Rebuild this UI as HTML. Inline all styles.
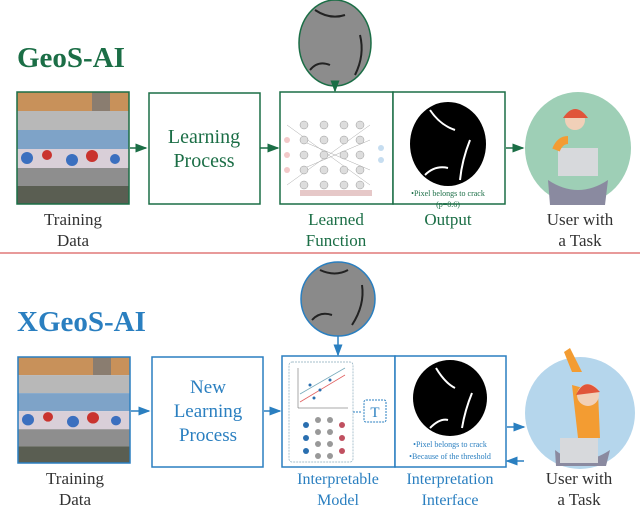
<!DOCTYPE html><html><head><style>body{margin:0;background:#fff}svg{display:block}text{font-family:"Liberation Serif",serif}</style></head><body>
<svg width="640" height="512" viewBox="0 0 640 512" xmlns="http://www.w3.org/2000/svg">
<defs>
<marker id="ag" markerWidth="8" markerHeight="8" refX="7" refY="4" orient="auto"><path d="M0,1 L8,4 L0,7 Z" fill="#1b6e46"/></marker>
<marker id="ab" markerWidth="8" markerHeight="8" refX="7" refY="4" orient="auto"><path d="M0,1 L8,4 L0,7 Z" fill="#2a7fc0"/></marker>
<g id="grid">
<rect x="0" y="0" width="112" height="19" fill="#c8915a"/>
<rect x="75" y="0" width="18" height="19" fill="#8a7d70"/>
<rect x="0" y="19" width="112" height="19" fill="#b8b8b8"/>
<rect x="0" y="38" width="112" height="19" fill="#7ea3c8"/>
<rect x="0" y="57" width="112" height="19" fill="#d9cfd8"/>
<circle cx="10" cy="66" r="6" fill="#3b6fbf"/><circle cx="30" cy="63" r="5" fill="#c9332e"/><circle cx="55" cy="68" r="6" fill="#3b6fbf"/><circle cx="75" cy="64" r="6" fill="#c9332e"/><circle cx="98" cy="67" r="5" fill="#3b6fbf"/>
<rect x="0" y="76" width="112" height="18" fill="#8e8e8e"/>
<rect x="0" y="94" width="112" height="18" fill="#5a5e52"/>
</g>
</defs>

<!-- TOP -->
<text x="17" y="67" font-size="29" font-weight="bold" fill="#1b6e46">GeoS-AI</text>
<g transform="translate(17,92)"><use href="#grid"/><rect x="0" y="0" width="112" height="112" fill="none" stroke="#1b6e46" stroke-width="1.5"/></g>
<line x1="130" y1="148" x2="146" y2="148" stroke="#1b6e46" stroke-width="1.5" marker-end="url(#ag)"/>
<rect x="149" y="93" width="111" height="111" fill="#fff" stroke="#1b6e46" stroke-width="1.5"/>
<text x="204" y="143" font-size="20" fill="#1b6e46" text-anchor="middle">Learning</text>
<text x="204" y="167" font-size="20" fill="#1b6e46" text-anchor="middle">Process</text>
<line x1="260" y1="148" x2="278" y2="148" stroke="#1b6e46" stroke-width="1.5" marker-end="url(#ag)"/>
<ellipse cx="335" cy="43" rx="36" ry="43" fill="#8c8c8c" stroke="#1b6e46" stroke-width="1.5"/>
<path d="M315,10 Q330,20 345,15 M360,35 Q365,55 355,75 M310,70 Q318,60 330,65" stroke="#222" stroke-width="2" fill="none"/>
<line x1="335" y1="86" x2="335" y2="91" stroke="#1b6e46" stroke-width="1.5" marker-end="url(#ag)"/>
<rect x="280" y="92" width="113" height="112" fill="#fff" stroke="#1b6e46" stroke-width="1.5"/>
<rect x="393" y="92" width="112" height="112" fill="#fff" stroke="#1b6e46" stroke-width="1.5"/>
<g stroke="#aaa" stroke-width="0.5">
<line x1="287" y1="125" x2="370" y2="185"/><line x1="287" y1="185" x2="370" y2="125"/><line x1="300" y1="140" x2="370" y2="170"/><line x1="300" y1="170" x2="370" y2="140"/>
</g>
<g fill="#ddd" stroke="#999" stroke-width="0.5">
<circle cx="304" cy="140" r="4"/><circle cx="304" cy="155" r="4"/><circle cx="304" cy="170" r="4"/><circle cx="304" cy="185" r="4"/><circle cx="304" cy="125" r="4"/>
<circle cx="324" cy="125" r="4"/><circle cx="324" cy="140" r="4"/><circle cx="324" cy="155" r="4"/><circle cx="324" cy="170" r="4"/><circle cx="324" cy="185" r="4"/>
<circle cx="344" cy="125" r="4"/><circle cx="344" cy="140" r="4"/><circle cx="344" cy="155" r="4"/><circle cx="344" cy="170" r="4"/><circle cx="344" cy="185" r="4"/>
<circle cx="360" cy="125" r="4"/><circle cx="360" cy="140" r="4"/><circle cx="360" cy="155" r="4"/><circle cx="360" cy="170" r="4"/><circle cx="360" cy="185" r="4"/>
</g>
<circle cx="287" cy="140" r="3" fill="#f3c9c9"/><circle cx="287" cy="155" r="3" fill="#f3c9c9"/><circle cx="287" cy="170" r="3" fill="#f3c9c9"/>
<circle cx="381" cy="148" r="3" fill="#c6ddf0"/><circle cx="381" cy="160" r="3" fill="#c6ddf0"/>
<rect x="300" y="190" width="72" height="6" fill="#e6c8c8"/>
<ellipse cx="448" cy="144" rx="38" ry="42" fill="#000"/>
<path d="M430,110 Q440,125 455,130 M470,140 Q462,160 460,180 M425,175 Q435,165 448,168" stroke="#fff" stroke-width="2" fill="none"/>
<text x="448" y="196" font-size="8" fill="#1b6e46" text-anchor="middle">•Pixel belongs to crack</text>
<text x="448" y="207" font-size="8" fill="#1b6e46" text-anchor="middle">(p=0.6)</text>
<line x1="506" y1="148" x2="523" y2="148" stroke="#1b6e46" stroke-width="1.5" marker-end="url(#ag)"/>
<ellipse cx="578" cy="148" rx="53" ry="56" fill="#9ecfb6"/>
<path d="M548,180 Q578,200 608,180 L605,205 L550,205 Z" fill="#8a8aa0"/>
<rect x="558" y="148" width="40" height="28" fill="#d7d9dc"/>
<path d="M556,150 Q560,140 568,140" stroke="#f39c32" stroke-width="8" fill="none"/>
<circle cx="575" cy="120" r="10" fill="#f1d0b8"/><path d="M563,118 Q575,100 588,118" fill="#e0553a"/>
<text x="73" y="225" font-size="17" fill="#333" text-anchor="middle">Training</text>
<text x="73" y="246" font-size="17" fill="#333" text-anchor="middle">Data</text>
<text x="336" y="225" font-size="17" fill="#1b6e46" text-anchor="middle">Learned</text>
<text x="336" y="246" font-size="17" fill="#1b6e46" text-anchor="middle">Function</text>
<text x="448" y="225" font-size="17" fill="#1b6e46" text-anchor="middle">Output</text>
<text x="580" y="225" font-size="17" fill="#333" text-anchor="middle">User with</text>
<text x="580" y="246" font-size="17" fill="#333" text-anchor="middle">a Task</text>
<line x1="0" y1="253" x2="640" y2="253" stroke="#e07878" stroke-width="1.5"/>

<!-- BOTTOM -->
<text x="17" y="331" font-size="29" font-weight="bold" fill="#2a7fc0">XGeoS-AI</text>
<g transform="translate(18,357) scale(1,0.95)"><use href="#grid"/></g>
<rect x="18" y="357" width="112" height="106" fill="none" stroke="#2a7fc0" stroke-width="1.5"/>
<line x1="131" y1="411" x2="149" y2="411" stroke="#2a7fc0" stroke-width="1.5" marker-end="url(#ab)"/>
<rect x="152" y="357" width="111" height="110" fill="#fff" stroke="#2a7fc0" stroke-width="1.5"/>
<text x="208" y="393" font-size="19" fill="#2a7fc0" text-anchor="middle">New</text>
<text x="208" y="417" font-size="19" fill="#2a7fc0" text-anchor="middle">Learning</text>
<text x="208" y="441" font-size="19" fill="#2a7fc0" text-anchor="middle">Process</text>
<line x1="264" y1="411" x2="280" y2="411" stroke="#2a7fc0" stroke-width="1.5" marker-end="url(#ab)"/>
<ellipse cx="338" cy="299" rx="37" ry="37" fill="#8a8a8a" stroke="#2a7fc0" stroke-width="1.5"/>
<path d="M320,270 Q335,277 348,270 M362,285 Q365,305 352,325 M312,320 Q320,311 332,315" stroke="#222" stroke-width="2" fill="none"/>
<line x1="338" y1="336" x2="338" y2="355" stroke="#2a7fc0" stroke-width="1.5" marker-end="url(#ab)"/>
<rect x="282" y="356" width="113" height="111" fill="#fff" stroke="#2a7fc0" stroke-width="1.5"/>
<rect x="395" y="356" width="111" height="111" fill="#fff" stroke="#2a7fc0" stroke-width="1.5"/>
<rect x="289" y="362" width="64" height="100" rx="3" fill="none" stroke="#8ab" stroke-dasharray="2,1" stroke-width="0.7"/>
<line x1="298" y1="368" x2="298" y2="408" stroke="#555" stroke-width="0.5"/><line x1="298" y1="408" x2="348" y2="408" stroke="#555" stroke-width="0.5"/>
<line x1="300" y1="402" x2="345" y2="375" stroke="#e06060" stroke-width="0.8"/><line x1="300" y1="394" x2="345" y2="368" stroke="#7ab" stroke-width="0.8"/>
<circle cx="310" cy="385" r="1.5" fill="#2a6fb0"/><circle cx="320" cy="390" r="1.5" fill="#2a6fb0"/><circle cx="330" cy="380" r="1.5" fill="#2a6fb0"/><circle cx="314" cy="398" r="1.5" fill="#2a6fb0"/>
<circle cx="306" cy="425" r="3" fill="#2a6fb0"/><circle cx="306" cy="438" r="3" fill="#2a6fb0"/><circle cx="306" cy="451" r="3" fill="#2a6fb0"/>
<circle cx="318" cy="420" r="3" fill="#999"/><circle cx="318" cy="432" r="3" fill="#999"/><circle cx="318" cy="444" r="3" fill="#999"/><circle cx="318" cy="456" r="3" fill="#999"/><circle cx="330" cy="420" r="3" fill="#999"/><circle cx="330" cy="432" r="3" fill="#999"/><circle cx="330" cy="444" r="3" fill="#999"/><circle cx="330" cy="456" r="3" fill="#999"/>
<circle cx="342" cy="425" r="3" fill="#c05060"/><circle cx="342" cy="438" r="3" fill="#c05060"/><circle cx="342" cy="451" r="3" fill="#c05060"/>
<line x1="353" y1="412" x2="362" y2="412" stroke="#2a7fc0" stroke-dasharray="2,1"/>
<rect x="364" y="400" width="22" height="22" rx="2" fill="#fff" stroke="#2a7fc0" stroke-dasharray="2,1"/>
<text x="375" y="417" font-size="15" fill="#2a7fc0" text-anchor="middle">T</text>
<ellipse cx="450" cy="398" rx="37" ry="38" fill="#000"/>
<path d="M436,368 Q445,383 455,388 M472,393 Q465,410 462,428 M430,428 Q440,418 448,420" stroke="#fff" stroke-width="2" fill="none"/>
<text x="450" y="447" font-size="8" fill="#2a7fc0" text-anchor="middle">•Pixel belongs to crack</text>
<text x="450" y="459" font-size="8" fill="#2a7fc0" text-anchor="middle">•Because of the threshold</text>
<line x1="507" y1="427" x2="524" y2="427" stroke="#2a7fc0" stroke-width="1.5" marker-end="url(#ab)"/>
<line x1="524" y1="461" x2="507" y2="461" stroke="#2a7fc0" stroke-width="1.5" marker-end="url(#ab)"/>
<ellipse cx="580" cy="413" rx="55" ry="56" fill="#b5d6ec"/>
<path d="M572,372 L564,352 L570,348 L582,372 Z" fill="#f39c32"/>
<path d="M555,450 Q580,470 610,450 L606,466 L556,466 Z" fill="#8a8aa0"/>
<rect x="560" y="438" width="38" height="25" fill="#d7d9dc"/>
<path d="M572,385 L578,438 L600,438 L598,392 Z" fill="#f39c32"/>
<circle cx="588" cy="395" r="11" fill="#f1d0b8"/><path d="M576,395 Q585,375 600,392" fill="#e0553a"/>
<text x="75" y="484" font-size="17" fill="#333" text-anchor="middle">Training</text>
<text x="75" y="505" font-size="17" fill="#333" text-anchor="middle">Data</text>
<text x="338" y="484" font-size="16" fill="#2a7fc0" text-anchor="middle">Interpretable</text>
<text x="338" y="505" font-size="16" fill="#2a7fc0" text-anchor="middle">Model</text>
<text x="450" y="484" font-size="16" fill="#2a7fc0" text-anchor="middle">Interpretation</text>
<text x="450" y="505" font-size="16" fill="#2a7fc0" text-anchor="middle">Interface</text>
<text x="579" y="484" font-size="17" fill="#333" text-anchor="middle">User with</text>
<text x="579" y="505" font-size="17" fill="#333" text-anchor="middle">a Task</text>
</svg>
</body></html>
